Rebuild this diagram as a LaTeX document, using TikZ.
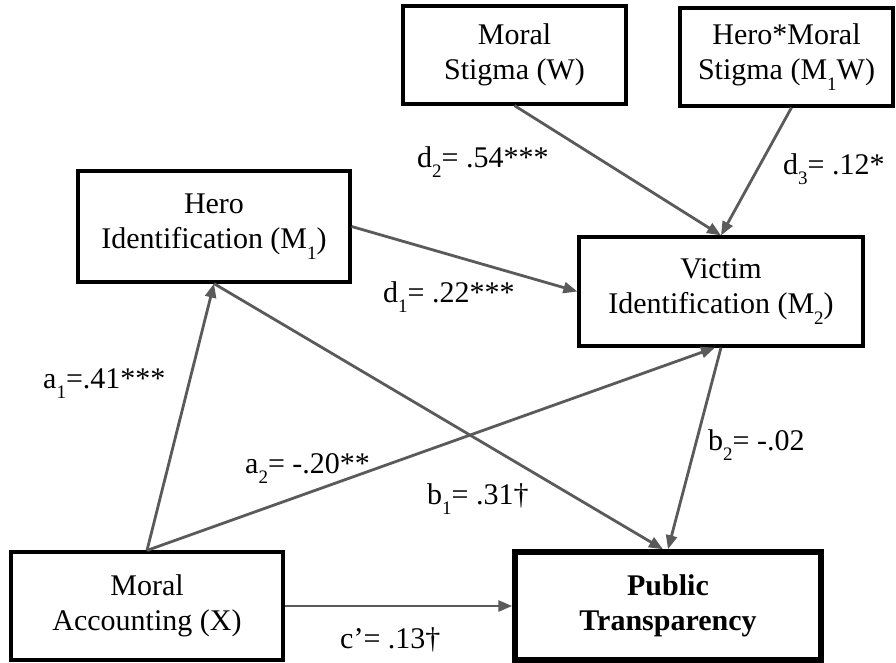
\documentclass[tikz,border=0pt]{standalone}
\usepackage{fontspec}
\setmainfont{Liberation Serif}
\usetikzlibrary{arrows.meta}
\definecolor{linkgray}{RGB}{90,90,90}
\newcommand{\lowsub}[1]{\raisebox{-0.36em}{\fontsize{19}{19}\selectfont#1}}
\tikzset{
  box/.style    = {draw, line width=3.2pt, fill=white, align=center, inner sep=0pt,
                   font=\fontsize{30}{35}\selectfont},
  outbox/.style = {box, line width=5.5pt, font=\fontsize{30}{35}\selectfont\bfseries},
  link/.style   = {-{Triangle[length=14pt,width=11pt]}, line width=2.8pt, linkgray},
  coef/.style   = {anchor=base west, inner sep=0pt, font=\fontsize{30}{35}\selectfont},
}

\begin{document}
\begin{tikzpicture}[x=1pt,y=-1pt]
  \useasboundingbox (0,0) rectangle (896,662);
  % boxes
  \node[box, minimum width=223pt, minimum height=98pt] (stigma) at (514.5,55)
      {Moral\\Stigma (W)};
  \node[box, minimum width=213pt, minimum height=98pt] (inter) at (786.5,57)
      {Hero*Moral\\Stigma (M\lowsub{1}W)};
  \node[box, minimum width=272pt, minimum height=111pt] (hero) at (214,226.5)
      {Hero\\Identification (M\lowsub{1})};
  \node[box, minimum width=284pt, minimum height=109pt] (victim) at (721,291.5)
      {Victim\\Identification (M\lowsub{2})};
  \node[box, minimum width=272pt, minimum height=108pt] (account) at (147,606)
      {Moral\\Accounting (X)};
  \node[outbox, minimum width=306pt, minimum height=108pt] (public) at (668,606)
      {Public\\Transparency};
  % paths
  \draw[link] (account.north) -- (hero.south);
  \draw[link] (account.north) -- ([xshift=-6pt]victim.south);
  \draw[link] (hero.south) -- ([xshift=-5pt]public.north);
  \draw[link] (victim.south) -- (public.north);
  \draw[link] (hero.east) -- (victim.west);
  \draw[link] (stigma.south) -- (victim.north);
  \draw[link] ([xshift=5pt]inter.south) -- (victim.north);
  \draw[link] (account.east) -- (public.west);
  % coefficients
  \node[coef] (d2) at (417,167) {d\lowsub{2}= .54***};
  \node[coef] (d3) at (783,174) {d\lowsub{3}= .12*};
  \node[coef] (d1) at (383,302) {d\lowsub{1}= .22***};
  \node[coef] (a1) at (43,388) {a\lowsub{1}=.41***};
  \node[coef] (a2) at (245,473) {a\lowsub{2}= -.20**};
  \node[coef] (b1) at (427,504) {b\lowsub{1}= .31†};
  \node[coef] (b2) at (708,450) {b\lowsub{2}= -.02};
  \node[coef] (c) at (340,648) {c’= .13†};
\end{tikzpicture}
\end{document}
